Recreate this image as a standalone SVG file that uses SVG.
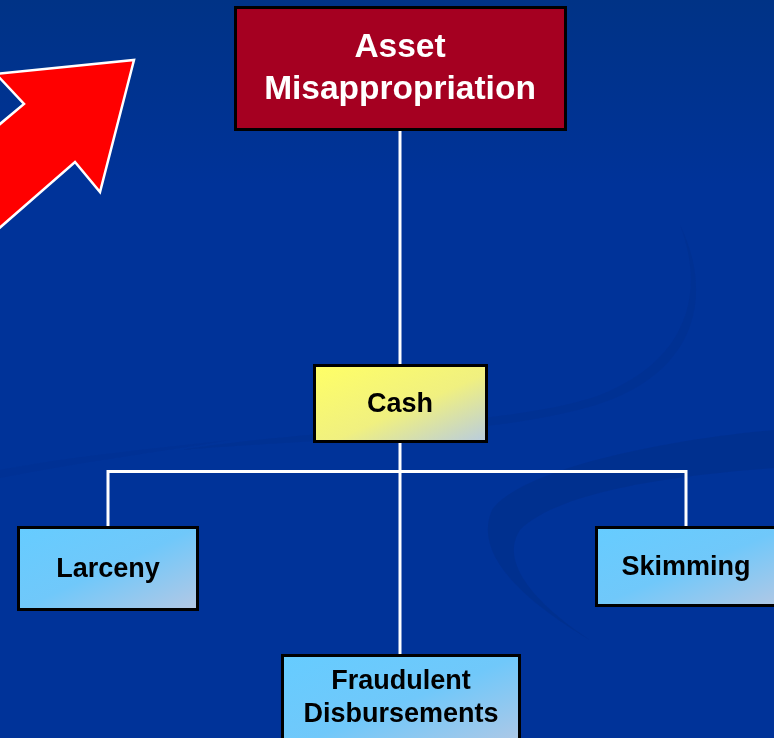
<svg xmlns="http://www.w3.org/2000/svg" width="774" height="738" viewBox="0 0 774 738">
<defs>
<linearGradient id="bg" x1="0" y1="0" x2="0" y2="1">
<stop offset="0" stop-color="#003386"/>
<stop offset="0.25" stop-color="#003399"/>
<stop offset="1" stop-color="#003399"/>
</linearGradient>
<linearGradient id="yel" x1="0" y1="0" x2="1" y2="1">
<stop offset="0" stop-color="#FFFF66"/>
<stop offset="0.55" stop-color="#F0F080"/>
<stop offset="1" stop-color="#B8CCE0"/>
</linearGradient>
<linearGradient id="blu" x1="0" y1="0" x2="1" y2="1">
<stop offset="0" stop-color="#66CCFF"/>
<stop offset="0.5" stop-color="#70C8FA"/>
<stop offset="1" stop-color="#B4C8E4"/>
</linearGradient>
<style>
.box{stroke:#000;stroke-width:3}
.lbl{font-family:"Liberation Sans",Arial,sans-serif;font-weight:bold;text-anchor:middle}
.dark{fill:#000;font-size:27px}
.conn{stroke:#fff;stroke-width:3;fill:none}
</style>
</defs>
<rect width="774" height="738" fill="url(#bg)"/>
<g id="background-swoosh" fill="#00308C" opacity="0.7">
<path d="M774,430 C660,440 520,470 492,510 C470,560 540,610 590,640 C530,600 500,560 520,530 C560,490 680,475 774,468 Z"/>
<path d="M680,225 C705,290 690,360 600,395 C520,425 300,430 180,450 C300,440 520,435 610,400 C700,365 712,290 680,225 Z" opacity="0.6"/>
<path d="M0,470 C80,455 160,448 230,440 C160,452 80,462 0,478 Z" opacity="0.4"/>
</g>
<g id="arrow">
<polygon points="134,60 100,192 75,162 -12,238 -12,134 24,104 -4,74" fill="#FF0000" stroke="#FFFFFF" stroke-width="2.5" stroke-linejoin="miter"/>
</g>
<g id="connectors">
<line class="conn" x1="400" y1="130" x2="400" y2="365"/>
<line class="conn" x1="400" y1="442" x2="400" y2="655"/>
<polyline class="conn" points="108,527 108,471.5 686,471.5 686,527"/>
</g>
<g id="asset-misappropriation">
<rect class="box" x="235.5" y="7.5" width="330" height="122" fill="#A50021"/>
<text class="lbl" x="400" y="57" fill="#FFFFFF" font-size="33.5">Asset</text>
<text class="lbl" x="400" y="99" fill="#FFFFFF" font-size="33.5">Misappropriation</text>
</g>
<g id="cash">
<rect class="box" x="314.5" y="365.5" width="172" height="76" fill="url(#yel)"/>
<text class="lbl dark" x="400" y="412">Cash</text>
</g>
<g id="larceny">
<rect class="box" x="18.5" y="527.5" width="179" height="82" fill="url(#blu)"/>
<text class="lbl dark" x="108" y="577">Larceny</text>
</g>
<g id="skimming">
<rect class="box" x="596.5" y="527.5" width="190" height="78" fill="url(#blu)"/>
<text class="lbl dark" x="686" y="575">Skimming</text>
</g>
<g id="fraudulent-disbursements">
<rect class="box" x="282.5" y="655.5" width="237" height="95" fill="url(#blu)"/>
<text class="lbl dark" x="401" y="689">Fraudulent</text>
<text class="lbl dark" x="401" y="722">Disbursements</text>
</g>
</svg>
